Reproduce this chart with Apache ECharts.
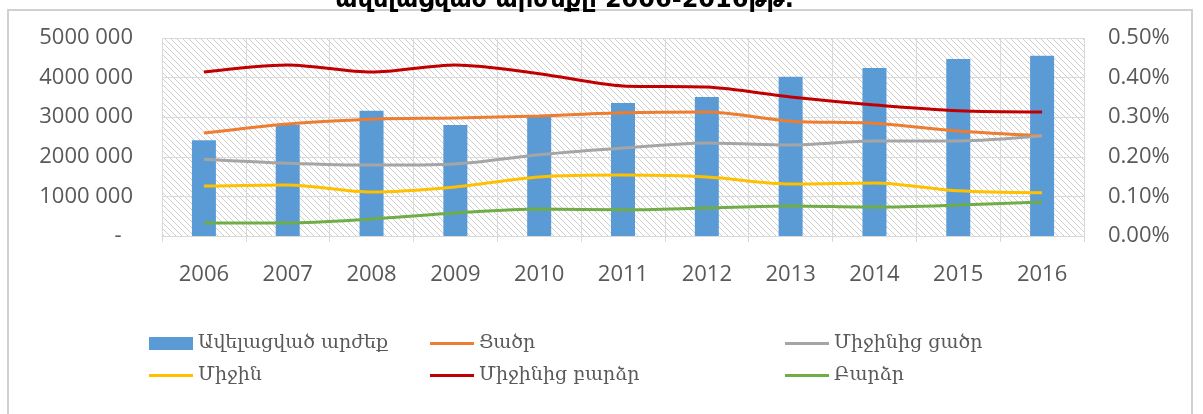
<!DOCTYPE html>
<html>
<head>
<meta charset="utf-8">
<script src="https://cdn.jsdelivr.net/npm/echarts@6/dist/echarts.min.js"></script>
<style>
  html, body { margin: 0; padding: 0; background: #fff; }
  #main { width: 1203px; height: 414px; }
</style>
</head>
<body>
<div id="main"></div>
<script>
document.addEventListener("DOMContentLoaded", function () {

  // data
  const years = ['2006', '2007', '2008', '2009', '2010', '2011', '2012', '2013', '2014', '2015', '2016'];
  const addedValue = [2420000, 2800000, 3160000, 2800000, 3030000, 3360000, 3510000, 4020000, 4240000, 4470000, 4550000];
  const low = [0.260, 0.283, 0.295, 0.298, 0.303, 0.311, 0.313, 0.290, 0.285, 0.265, 0.253];
  const belowAvg = [0.194, 0.184, 0.179, 0.182, 0.205, 0.222, 0.235, 0.230, 0.240, 0.240, 0.253];
  const average = [0.126, 0.129, 0.111, 0.124, 0.149, 0.154, 0.149, 0.131, 0.134, 0.114, 0.109];
  const aboveAvg = [0.414, 0.432, 0.414, 0.432, 0.410, 0.379, 0.376, 0.351, 0.331, 0.316, 0.313];
  const high = [0.033, 0.033, 0.043, 0.058, 0.068, 0.066, 0.071, 0.076, 0.073, 0.078, 0.086];

  const names = ['Ավելացված արժեք', 'Ցածր', 'Միջինից ցածր', 'Միջին', 'Միջինից բարձր', 'Բարձր'];
  const colors = ['#5b9bd5', '#ed7d31', '#a5a5a5', '#ffc000', '#c00000', '#70ad47'];

  // hatched plot background
  const hatch = document.createElement('canvas');
  hatch.width = 6;
  hatch.height = 6;
  const ctx = hatch.getContext('2d');
  ctx.fillStyle = '#ffffff';
  ctx.fillRect(0, 0, 6, 6);
  ctx.strokeStyle = '#cfcfcf';
  ctx.lineWidth = 1;
  ctx.beginPath();
  ctx.moveTo(-1, -1); ctx.lineTo(7, 7);
  ctx.moveTo(-4, 2); ctx.lineTo(4, 10);
  ctx.moveTo(2, -4); ctx.lineTo(10, 4);
  ctx.stroke();

  const axisFont = { fontFamily: 'Open Sans', fontSize: 22, color: '#595959' };
  const legendFont = { fontFamily: 'DejaVu Serif', fontSize: 19, color: '#595959' };

  // flat stroke used as legend mark for the lines
  const lineIcon = 'path://M0,0 L44,0 L44,3 L0,3 Z';

  const lineSeries = (name, data, color) => ({
    name: name,
    type: 'line',
    yAxisIndex: 1,
    data: data,
    smooth: 0.3,
    symbol: 'none',
    lineStyle: { color: color, width: 3 },
    itemStyle: { color: color },
    z: 3
  });

  const legendItem = (name, isBar) => isBar ? { name: name, icon: 'rect' } : { name: name, icon: lineIcon };

  const legendCol = (items, left) => ({
    data: items,
    orient: 'vertical',
    left: left,
    top: 334,
    padding: 0,
    itemWidth: 44,
    itemHeight: 13,
    itemGap: 13,
    textStyle: legendFont,
    selectedMode: false
  });

  let myChart = echarts.init(document.getElementById('main'));

  let option = {
    animation: false,
    title: {
      text: 'ավելացված արժեքը 2006-2016թթ.',
      left: 330,
      top: -16,
      textStyle: { fontFamily: 'DejaVu Sans', fontSize: 24, fontWeight: 'bold', color: '#000' }
    },
    graphic: [{
      type: 'rect',
      shape: { x: 8, y: 10, width: 1184, height: 420 },
      style: { fill: 'none', stroke: '#d0d0d0', lineWidth: 2 },
      z: -10
    }],
    legend: [
      legendCol([legendItem(names[0], true), legendItem(names[3])], 149),
      legendCol([legendItem(names[1]), legendItem(names[4])], 430),
      legendCol([legendItem(names[2]), legendItem(names[5])], 785)
    ],
    grid: {
      left: 162,
      right: 119,
      top: 38,
      height: 198,
      show: true,
      borderWidth: 0,
      backgroundColor: { image: hatch, repeat: 'repeat' }
    },
    xAxis: {
      type: 'category',
      data: years,
      axisLine: { lineStyle: { color: '#d9d9d9' } },
      axisTick: { show: true, length: 6, lineStyle: { color: '#d9d9d9' } },
      axisLabel: Object.assign({ margin: 28 }, axisFont),
      splitLine: { show: true, lineStyle: { color: '#d9d9d9' } }
    },
    yAxis: [{
      type: 'value',
      min: 0,
      max: 5000000,
      interval: 1000000,
      axisLine: { show: false },
      axisTick: { show: false },
      axisLabel: Object.assign({
        margin: 29,
        formatter: v => v === 0 ? '-  ' : (v / 1000) + ' 000'
      }, axisFont),
      splitLine: { lineStyle: { color: '#d9d9d9' } }
    }, {
      type: 'value',
      position: 'right',
      min: 0,
      max: 0.5,
      interval: 0.1,
      axisLine: { show: false },
      axisTick: { show: false },
      axisLabel: Object.assign({
        margin: 24,
        formatter: v => v.toFixed(2) + '%'
      }, axisFont),
      splitLine: { show: false }
    }],
    series: [
      {
        name: names[0],
        type: 'bar',
        data: addedValue,
        barWidth: 24,
        itemStyle: { color: colors[0] },
        z: 2
      },
      lineSeries(names[1], low, colors[1]),
      lineSeries(names[2], belowAvg, colors[2]),
      lineSeries(names[3], average, colors[3]),
      lineSeries(names[4], aboveAvg, colors[4]),
      lineSeries(names[5], high, colors[5])
    ]
  };

  myChart.setOption(option);
});
</script>
</body>
</html>
